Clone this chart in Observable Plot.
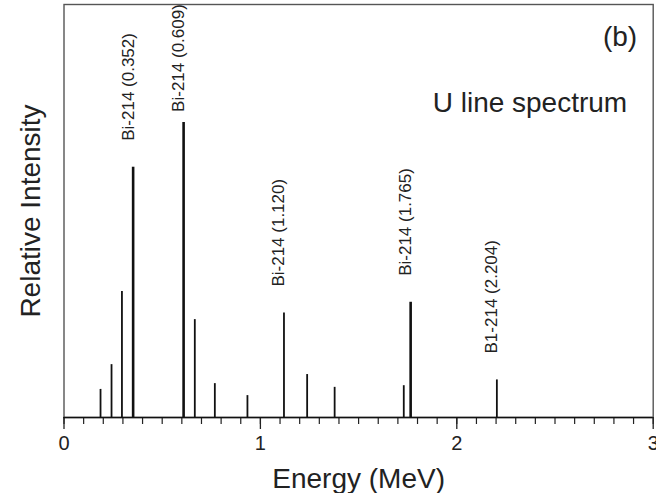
<!DOCTYPE html>
<html>
<head>
<meta charset="utf-8">
<script src="https://cdn.jsdelivr.net/npm/d3@7"></script>
<script src="https://cdn.jsdelivr.net/npm/@observablehq/plot@0.6"></script>
<style>
  html, body { margin: 0; padding: 0; background: #fff; }
  #chart svg { display: block; }
</style>
</head>
<body>
<div id="chart"></div>
<script>
// Line energies (MeV) and relative intensities
const energies = [0.186, 0.242, 0.295, 0.352, 0.609, 0.666, 0.768, 0.934, 1.120, 1.238, 1.378, 1.730, 1.765, 2.204];
const intensities = [6.8, 12.8, 30.5, 60.6, 71.4, 23.7, 8.2, 5.3, 25.3, 10.4, 7.3, 7.7, 27.9, 9.1];
// Annotated lines
const labelEnergies = [0.352, 0.609, 1.120, 1.765, 2.204];
const labelTexts = ["Bi-214 (0.352)", "Bi-214 (0.609)", "Bi-214 (1.120)", "Bi-214 (1.765)", "B1-214 (2.204)"];
// Axis ticks
const majorTicks = [0, 1, 2, 3];
const minorTicks = d3.range(0, 31).map(i => i / 10);

const thick = new Set([0.352, 0.609, 1.765]);
const lines = energies.map((e, i) => ({energy: e, intensity: intensities[i]}));
const labels = labelEnergies.map((e, i) => ({
  energy: e,
  intensity: intensities[energies.indexOf(e)],
  text: labelTexts[i]
}));

const font = "'Liberation Sans', Arial, sans-serif";
const gap = 6.4;    // label gap above line top (y units)
const maxAnchor = 74; // keep labels inside the frame

const chart = Plot.plot({
  width: 656,
  height: 493,
  marginLeft: 63.5,
  marginRight: 3.3,
  marginTop: 4,
  marginBottom: 76,
  style: {fontFamily: font, color: "#222", background: "#fff"},
  x: {domain: [0, 3]},
  y: {domain: [0, 100]},
  marks: [
    Plot.frame({stroke: "#555", strokeWidth: 1.4}),
    Plot.axisX({ticks: minorTicks, tickSize: 7, tickFormat: () => "", stroke: "#222", strokeWidth: 1.2, label: null}),
    Plot.axisX({ticks: majorTicks, tickSize: 12, tickPadding: 6, tickFormat: d => String(d), fontSize: 20, stroke: "#222", strokeWidth: 1.3, label: null}),
    Plot.axisY({ticks: [], label: null}),
    Plot.ruleY([0], {stroke: "#111", strokeWidth: 1.6}),
    Plot.ruleX(lines, {
      x: "energy", y1: 0, y2: "intensity",
      stroke: "#111",
      strokeWidth: d => thick.has(d.energy) ? 2.6 : 1.8
    }),
    Plot.text(labels, {
      x: "energy",
      y: d => Math.min(d.intensity + gap, maxAnchor),
      text: "text",
      rotate: -90,
      textAnchor: "start",
      lineAnchor: "middle",
      dx: -5,
      fontSize: 17,
      fill: "#222"
    }),
    Plot.text(["(b)"], {frameAnchor: "top-right", textAnchor: "end", lineAnchor: "bottom", dx: -16, dy: 41, fontSize: 28, fill: "#222"}),
    Plot.text(["U line spectrum"], {frameAnchor: "top-right", textAnchor: "end", lineAnchor: "bottom", dx: -26, dy: 107.5, fontSize: 28, fill: "#222"}),
    Plot.text(["Energy (MeV)"], {frameAnchor: "bottom", textAnchor: "middle", lineAnchor: "bottom", dy: 70, fontSize: 28, fill: "#222"}),
    Plot.text(["Relative Intensity"], {frameAnchor: "left", textAnchor: "middle", rotate: -90, lineAnchor: "middle", dx: -33, fontSize: 28, fill: "#222"})
  ]
});
document.getElementById("chart").append(chart);
</script>
</body>
</html>
